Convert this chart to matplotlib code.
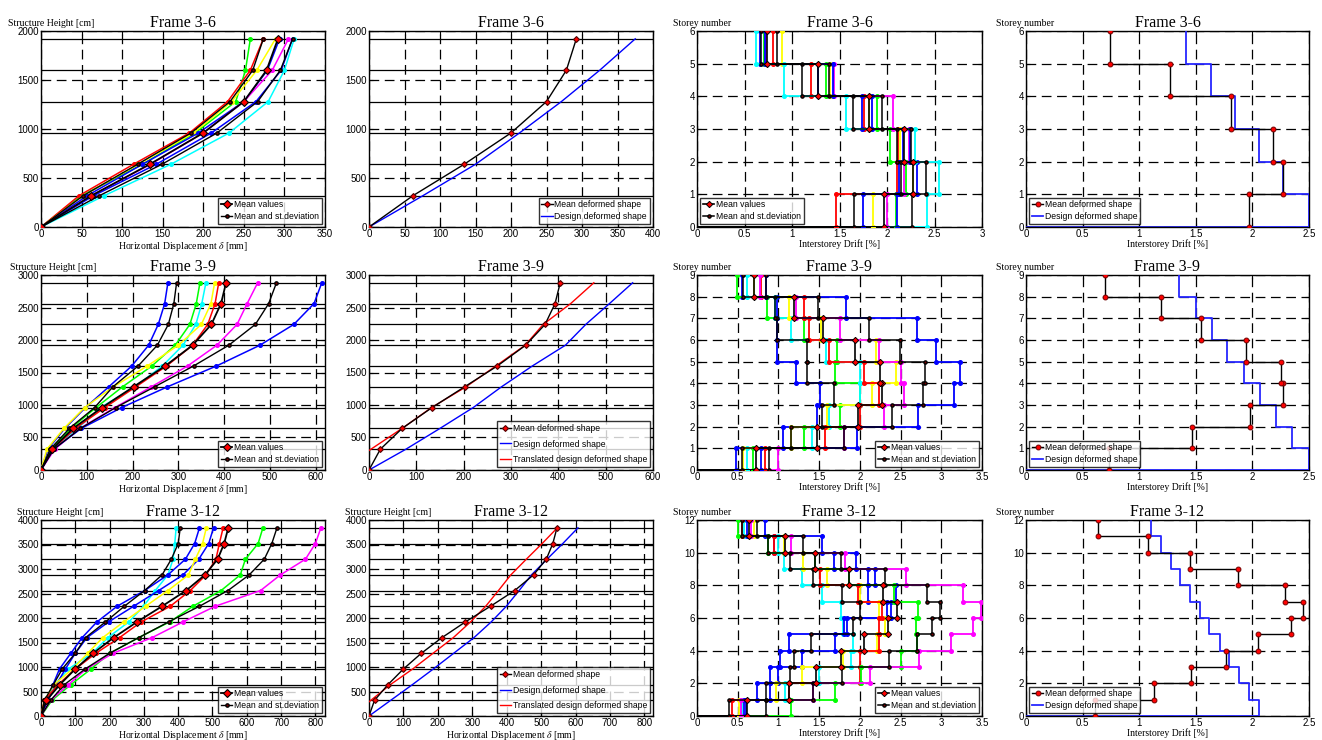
import numpy as np
import matplotlib
matplotlib.use("Agg")
import matplotlib.pyplot as plt
from matplotlib.ticker import MultipleLocator, FuncFormatter

plt.rcParams['font.family'] = ['Liberation Sans', 'DejaVu Sans']
plt.rcParams['mathtext.fontset'] = 'stix'
plt.rcParams['lines.scale_dashes'] = False

# ------------------------------------------------------------------ data
frame_titles = ["Frame 3-6", "Frame 3-9", "Frame 3-12"]

floor_h_36 = [0, 320, 640, 960, 1280, 1600, 1920]
floor_h_39 = [0, 320, 640, 960, 1280, 1600, 1920, 2240, 2560, 2880]
floor_h_312 = [0, 320, 640, 960, 1280, 1600, 1920, 2240, 2560, 2880, 3200, 3520, 3840]

# Frame 3-6 ------------------------------------------------------------
colors_36 = ["g", "r", "y", "b", "m", "b", "c"]
disp_36_green = [0, 50, 125, 190, 240, 252, 258]
disp_36_red = [0, 47, 114, 183, 230, 258, 274]
disp_36_yellow = [0, 52, 120, 188, 235, 266, 289]
disp_36_blue1 = [0, 57, 125, 194, 250, 279, 294]
disp_36_magenta = [0, 62, 135, 200, 250, 285, 305]
disp_36_blue2 = [0, 65, 142, 210, 265, 296, 310]
disp_36_cyan = [0, 78, 160, 232, 280, 300, 312]
disp_36_mean = [0, 62, 134, 200, 250, 278, 292]
disp_36_lo = [0, 52, 119, 185, 233, 261, 274]
disp_36_hi = [0, 72, 149, 217, 267, 295, 310]
design_disp_36 = [0, 76, 150, 212, 271, 325, 375]

drift_36_green = [2.09, 2.20, 2.03, 1.89, 1.36, 0.70]
drift_36_red = [1.46, 2.11, 2.12, 1.76, 1.20, 0.80]
drift_36_yellow = [1.85, 2.27, 2.14, 1.81, 1.40, 0.89]
drift_36_blue1 = [1.75, 2.13, 2.17, 1.74, 1.27, 0.66]
drift_36_magenta = [2.00, 2.18, 2.23, 2.06, 1.44, 0.73]
drift_36_blue2 = [2.11, 2.32, 2.24, 1.84, 1.43, 0.72]
drift_36_cyan = [2.42, 2.55, 2.29, 1.57, 0.92, 0.62]
drift_36_mean = [1.97, 2.27, 2.18, 1.81, 1.27, 0.74]
drift_36_lo = [1.65, 2.15, 2.10, 1.64, 1.10, 0.67]
drift_36_hi = [2.26, 2.41, 2.25, 1.95, 1.39, 0.84]
design_drift_36 = [2.50, 2.27, 2.06, 1.85, 1.63, 1.41]

# Frame 3-9 ------------------------------------------------------------
colors_39 = ["b", "g", "c", "y", "r", "m", "b"]
disp_39_blue1 = [0, 15, 52, 97, 148, 198, 235, 256, 270, 277]
disp_39_green = [0, 23, 65, 120, 178, 242, 293, 325, 339, 347]
disp_39_cyan = [0, 22, 80, 130, 205, 265, 310, 338, 351, 360]
disp_39_yellow = [0, 13, 50, 95, 158, 232, 300, 350, 371, 379]
disp_39_red = [0, 25, 75, 139, 207, 274, 331, 364, 380, 388]
disp_39_magenta = [0, 30, 85, 161, 241, 320, 384, 428, 450, 473]
disp_39_blue2 = [0, 27, 88, 176, 276, 383, 478, 552, 596, 613]
disp_39_mean = [0, 24, 70, 133, 202, 271, 331, 372, 393, 404]
disp_39_lo = [0, 20, 62, 117, 157, 212, 254, 278, 290, 296]
disp_39_hi = [0, 28, 86, 163, 248, 333, 410, 468, 497, 514]
design_disp_39 = [0, 78, 150, 220, 280, 345, 415, 458, 508, 557]
trans_h_39 = [300, 640, 960, 1280, 1600, 1920, 2240, 2560, 2880]
trans_disp_39 = [0, 70, 132, 205, 268, 330, 368, 426, 475]

drift_39_blue1 = [0.48, 1.06, 1.47, 1.51, 1.21, 0.98, 0.98, 0.98, 0.55]
drift_39_green = [0.69, 1.31, 1.76, 2.00, 1.70, 1.72, 1.31, 0.86, 0.49]
drift_39_cyan = [0.62, 1.41, 1.62, 2.00, 2.00, 1.58, 1.16, 0.96, 0.61]
drift_39_yellow = [0.57, 1.15, 1.60, 2.15, 2.44, 2.20, 1.52, 1.13, 0.70]
drift_39_red = [0.83, 1.57, 2.00, 2.23, 2.05, 1.62, 1.37, 1.32, 0.78]
drift_39_magenta = [1.00, 1.81, 2.30, 2.54, 2.50, 2.23, 1.75, 1.21, 0.77]
drift_39_blue2 = [0.78, 1.96, 2.71, 3.16, 3.23, 2.94, 2.70, 1.83, 0.85]
drift_39_mean = [0.73, 1.47, 1.98, 2.27, 2.25, 1.94, 1.55, 1.19, 0.70]
drift_39_lo = [0.55, 1.15, 1.54, 1.68, 1.35, 1.35, 0.98, 0.96, 0.56]
drift_39_hi = [0.89, 1.80, 2.39, 2.78, 2.80, 2.49, 2.11, 1.49, 0.85]
design_drift_39 = [2.50, 2.35, 2.21, 2.07, 1.93, 1.78, 1.64, 1.50, 1.35]

# Frame 3-12 -----------------------------------------------------------
colors_312 = ["c", "b", "b", "y", "r", "g", "m"]
disp_312_cyan = [0, 12, 40, 80, 149, 195, 256, 299, 333, 370, 385, 390, 394]
disp_312_blue1 = [0, 15, 35, 54, 87, 120, 163, 222, 302, 370, 421, 448, 462]
disp_312_blue2 = [0, 20, 45, 71, 100, 134, 197, 270, 343, 414, 460, 489, 503]
disp_312_yellow = [0, 10, 38, 92, 136, 180, 241, 305, 370, 430, 450, 471, 482]
disp_312_red = [0, 10, 50, 100, 160, 229, 292, 377, 435, 481, 510, 520, 531]
disp_312_green = [0, 32, 87, 146, 200, 285, 375, 443, 525, 581, 596, 633, 647]
disp_312_magenta = [0, 28, 80, 132, 210, 324, 414, 508, 640, 698, 771, 800, 816]
disp_312_mean = [0, 16, 55, 100, 152, 212, 280, 353, 423, 478, 515, 534, 546]
disp_312_lo = [0, 10, 36, 62, 100, 130, 188, 243, 302, 353, 380, 400, 406]
disp_312_hi = [0, 28, 68, 129, 200, 285, 372, 462, 545, 607, 651, 673, 688]
design_disp_312 = [0, 63, 126, 187, 246, 305, 355, 399, 436, 472, 517, 563, 607]
trans_h_312 = [290, 640, 960, 1280, 1600, 1920, 2240, 2560, 2880, 3200, 3520, 3840]
trans_disp_312 = [0, 62, 127, 186, 245, 295, 339, 376, 412, 457, 503, 547]

drift_312_cyan = [0.55, 1.08, 1.50, 1.89, 1.92, 1.79, 1.77, 1.54, 1.29, 1.07, 1.00, 0.58]
drift_312_blue1 = [0.60, 0.74, 0.90, 1.02, 1.13, 1.84, 2.38, 2.44, 2.10, 1.68, 1.54, 0.83]
drift_312_blue2 = [0.58, 0.90, 1.00, 1.29, 1.70, 1.80, 2.33, 2.10, 2.18, 1.95, 0.95, 0.61]
drift_312_yellow = [0.51, 0.97, 1.29, 1.79, 2.21, 2.31, 2.24, 2.00, 1.60, 1.30, 1.07, 0.70]
drift_312_red = [0.43, 1.13, 2.00, 2.00, 2.24, 2.24, 2.27, 1.98, 1.51, 1.45, 0.94, 0.55]
drift_312_green = [1.16, 1.70, 2.01, 2.50, 2.70, 2.69, 2.71, 2.42, 1.87, 1.45, 0.87, 0.50]
drift_312_magenta = [0.54, 1.43, 2.12, 2.73, 3.12, 3.39, 3.49, 3.27, 2.57, 1.82, 1.15, 0.66]
drift_312_mean = [0.61, 1.13, 1.46, 1.77, 2.05, 2.34, 2.45, 2.29, 1.87, 1.45, 1.08, 0.64]
drift_312_lo = [0.39, 0.85, 1.14, 1.19, 1.40, 1.92, 2.00, 1.78, 1.43, 1.14, 0.87, 0.55]
drift_312_hi = [0.85, 1.42, 1.78, 2.36, 2.70, 2.88, 2.99, 2.82, 2.31, 1.77, 1.30, 0.74]
design_drift_312 = [2.06, 1.97, 1.88, 1.79, 1.71, 1.62, 1.54, 1.45, 1.36, 1.28, 1.19, 1.10]

# axis limits / tick steps per frame
disp_xlim_col1 = [350, 620, 828]
disp_xlim_col2 = [400, 600, 825]
disp_xstep = [50, 100, 100]
disp_ylim = [2000, 3000, 4000]
drift_xlim_col3 = [3.0, 3.5, 3.5]
drift_xlim_col4 = [2.5, 2.5, 2.5]
drift_ystep = [1, 1, 2]

# ---------------------------------------------------------- assemble
frames = [
    dict(h=floor_h_36, colors=colors_36,
         disp=[disp_36_green, disp_36_red, disp_36_yellow, disp_36_blue1,
               disp_36_magenta, disp_36_blue2, disp_36_cyan],
         mean=disp_36_mean, lo=disp_36_lo, hi=disp_36_hi, design=design_disp_36,
         trans_h=None, trans=None,
         drift=[drift_36_green, drift_36_red, drift_36_yellow, drift_36_blue1,
                drift_36_magenta, drift_36_blue2, drift_36_cyan],
         dmean=drift_36_mean, dlo=drift_36_lo, dhi=drift_36_hi,
         ddesign=design_drift_36),
    dict(h=floor_h_39, colors=colors_39,
         disp=[disp_39_blue1, disp_39_green, disp_39_cyan, disp_39_yellow,
               disp_39_red, disp_39_magenta, disp_39_blue2],
         mean=disp_39_mean, lo=disp_39_lo, hi=disp_39_hi, design=design_disp_39,
         trans_h=trans_h_39, trans=trans_disp_39,
         drift=[drift_39_blue1, drift_39_green, drift_39_cyan, drift_39_yellow,
                drift_39_red, drift_39_magenta, drift_39_blue2],
         dmean=drift_39_mean, dlo=drift_39_lo, dhi=drift_39_hi,
         ddesign=design_drift_39),
    dict(h=floor_h_312, colors=colors_312,
         disp=[disp_312_cyan, disp_312_blue1, disp_312_blue2, disp_312_yellow,
               disp_312_red, disp_312_green, disp_312_magenta],
         mean=disp_312_mean, lo=disp_312_lo, hi=disp_312_hi, design=design_disp_312,
         trans_h=trans_h_312, trans=trans_disp_312,
         drift=[drift_312_cyan, drift_312_blue1, drift_312_blue2, drift_312_yellow,
                drift_312_red, drift_312_green, drift_312_magenta],
         dmean=drift_312_mean, dlo=drift_312_lo, dhi=drift_312_hi,
         ddesign=design_drift_312),
]

# ---------------------------------------------------------- styling
W, H = 1322, 740
fig = plt.figure(figsize=(W / 100, H / 100), dpi=100)
col_px = [(41, 325), (369, 653), (697, 982), (1026, 1309)]
row_px = [(31, 227), (275, 470), (520, 716)]
SERIF = ['Liberation Serif', 'DejaVu Serif']
SANS = ['Liberation Sans', 'DejaVu Sans']
GRID_LS = (0, (7, 4))
MCOL = {"b": (0, 0, 1), "g": (0, 1, 0), "r": (1, 0, 0), "c": (0, 1, 1),
        "m": (1, 0, 1), "y": (1, 1, 0), "k": (0, 0, 0)}


def make_ax(c, r):
    x0, x1 = col_px[c]
    y0, y1 = row_px[r]
    return fig.add_axes([x0 / W, 1 - y1 / H, (x1 - x0) / W, (y1 - y0) / H])


def style(ax, title, xlabel=None, ylabel=None, ylab_off=-28):
    ax.set_title(title, fontsize=11.5, family=SERIF, pad=3)
    ax.tick_params(direction='in', top=True, right=True, length=3,
                   labelsize=7, pad=1.5, width=0.8)
    for s in ax.spines.values():
        s.set_linewidth(1.0)
    ax.grid(True, color='k', linestyle=GRID_LS, linewidth=0.9)
    ax.set_axisbelow(True)
    if xlabel:
        ax.set_xlabel(xlabel, fontsize=7, family=SERIF, labelpad=0.5)
    if ylabel:
        ax.annotate(ylabel, xy=(0, 1), xycoords='axes fraction',
                    xytext=(ylab_off * 0.72, 2), textcoords='offset points',
                    ha='left', va='bottom', fontsize=7, family=SERIF)


def legend(ax, loc, handles, labels, spacing=0.3):
    lg = ax.legend(handles, labels, loc=loc, frameon=True,
                   fancybox=False, edgecolor='k', borderpad=0.3,
                   labelspacing=spacing, handlelength=1.3, handletextpad=0.2,
                   borderaxespad=0.4, prop={'family': SANS, 'size': 6.2})
    lg.get_frame().set_linewidth(1.0)
    lg.set_zorder(20)


def step_xy(d):
    d = np.asarray(d, float)
    n = len(d)
    x = np.concatenate([[0.0], np.repeat(d, 2)])
    y = np.concatenate([[0.0], np.column_stack([np.arange(n), np.arange(n) + 1]).ravel()])
    return x, y


fmt_g = FuncFormatter(lambda v, p: f"{v:g}")
DXLAB = r"Horizontal Displacement $\delta$ [mm]"

for r, fr in enumerate(frames):
    h = fr['h']
    # ---------------- column 1: all displacements
    ax = make_ax(0, r)
    for hv in h[1:]:
        ax.axhline(hv, color='k', lw=0.9, zorder=1)
    for vals, c in zip(fr['disp'], fr['colors']):
        ax.plot(vals, h, '-', color=MCOL[c], lw=1.1, marker='o', ms=2.6,
                mfc=MCOL[c], mec=MCOL[c], zorder=3)
    l_lo, = ax.plot(fr['lo'], h, '-', color='k', lw=1.0, marker='o', ms=2.4,
                    mfc='#7a0000', mec='k', zorder=4)
    ax.plot(fr['hi'], h, '-', color='k', lw=1.0, marker='o', ms=2.4,
            mfc='#7a0000', mec='k', zorder=4)
    l_mean, = ax.plot(fr['mean'], h, '-', color='k', lw=1.3, marker='D', ms=4.0,
                      mfc='r', mec='k', mew=0.8, zorder=5)
    ax.set_xlim(0, disp_xlim_col1[r])
    ax.set_ylim(0, disp_ylim[r])
    ax.xaxis.set_major_locator(MultipleLocator(disp_xstep[r]))
    ax.yaxis.set_major_locator(MultipleLocator(500))
    style(ax, frame_titles[r], DXLAB, "Structure Height [cm]",
          ylab_off=[-33, -31, -24][r])
    legend(ax, 'lower right', [l_mean, l_lo], ['Mean values', 'Mean and st.deviation'])

    # ---------------- column 2: mean vs design
    ax = make_ax(1, r)
    for hv in h[1:]:
        ax.axhline(hv, color='k', lw=0.9, zorder=1)
    hs, ls = [], []
    l1, = ax.plot(fr['mean'], h, '-', color='k', lw=1.0, marker='D', ms=3.0,
                  mfc='r', mec='#500000', mew=0.8, zorder=5)
    l2, = ax.plot(fr['design'], h, '-', color='b', lw=1.0, zorder=4)
    hs += [l1, l2]
    ls += ['Mean deformed shape', 'Design deformed shape']
    if fr['trans'] is not None:
        l3, = ax.plot(fr['trans'], fr['trans_h'], '-', color='r', lw=1.0, zorder=4)
        hs.append(l3)
        ls.append('Translated design deformed shape')
    ax.set_xlim(0, disp_xlim_col2[r])
    ax.set_ylim(0, disp_ylim[r])
    ax.xaxis.set_major_locator(MultipleLocator(disp_xstep[r]))
    ax.yaxis.set_major_locator(MultipleLocator(500))
    if r == 2:
        style(ax, frame_titles[r], DXLAB, "Structure Height [cm]", ylab_off=-24)
    else:
        style(ax, frame_titles[r])
    legend(ax, 'lower right', hs, ls, spacing=0.3 if len(hs) == 2 else 0.75)

    # ---------------- column 3: interstorey drifts
    ax = make_ax(2, r)
    n = len(fr['dmean'])
    mk = list(range(1, 2 * n + 1))
    for vals, c in zip(fr['drift'], fr['colors']):
        x, y = step_xy(vals)
        ax.plot(x, y, '-', color=MCOL[c], lw=1.3, marker='o', ms=2.6,
                mfc=MCOL[c], mec=MCOL[c], markevery=mk, zorder=3)
    x, y = step_xy(fr['dlo'])
    l_lo, = ax.plot(x, y, '-', color='k', lw=1.1, marker='o', ms=2.3,
                    mfc='#7a0000', mec='k', markevery=mk, zorder=4)
    x, y = step_xy(fr['dhi'])
    ax.plot(x, y, '-', color='k', lw=1.1, marker='o', ms=2.3, mfc='#7a0000',
            mec='k', markevery=mk, zorder=4)
    x, y = step_xy(fr['dmean'])
    l_mean, = ax.plot(x, y, '-', color='k', lw=1.2, marker='D', ms=3.2, mfc='r',
                      mec='k', mew=0.7, markevery=mk, zorder=5)
    ax.set_xlim(0, drift_xlim_col3[r])
    ax.set_ylim(0, n)
    ax.xaxis.set_major_locator(MultipleLocator(0.5))
    ax.yaxis.set_major_locator(MultipleLocator(drift_ystep[r]))
    ax.xaxis.set_major_formatter(fmt_g)
    style(ax, frame_titles[r], "Interstorey Drift [%]", "Storey number",
          ylab_off=-24)
    legend(ax, 'lower left' if r == 0 else 'lower right', [l_mean, l_lo],
           ['Mean values', 'Mean and st.deviation'])

    # ---------------- column 4: mean vs design drift
    ax = make_ax(3, r)
    x, y = step_xy(fr['dmean'])
    l1, = ax.plot(x, y, '-', color='k', lw=1.0, marker='o', ms=3.5, mfc='r',
                  mec='#700000', mew=0.7, markevery=mk, zorder=5)
    x, y = step_xy(fr['ddesign'])
    l2, = ax.plot(x, y, '-', color=(0.15, 0.15, 1.0), lw=1.3, zorder=4)
    ax.set_xlim(0, drift_xlim_col4[r])
    ax.set_ylim(0, n)
    ax.xaxis.set_major_locator(MultipleLocator(0.5))
    ax.yaxis.set_major_locator(MultipleLocator(drift_ystep[r]))
    ax.xaxis.set_major_formatter(fmt_g)
    style(ax, frame_titles[r], "Interstorey Drift [%]", "Storey number",
          ylab_off=-30)
    legend(ax, 'lower left', [l1, l2], ['Mean deformed shape', 'Design deformed shape'])

fig.savefig("out.png", dpi=100, facecolor='white')
